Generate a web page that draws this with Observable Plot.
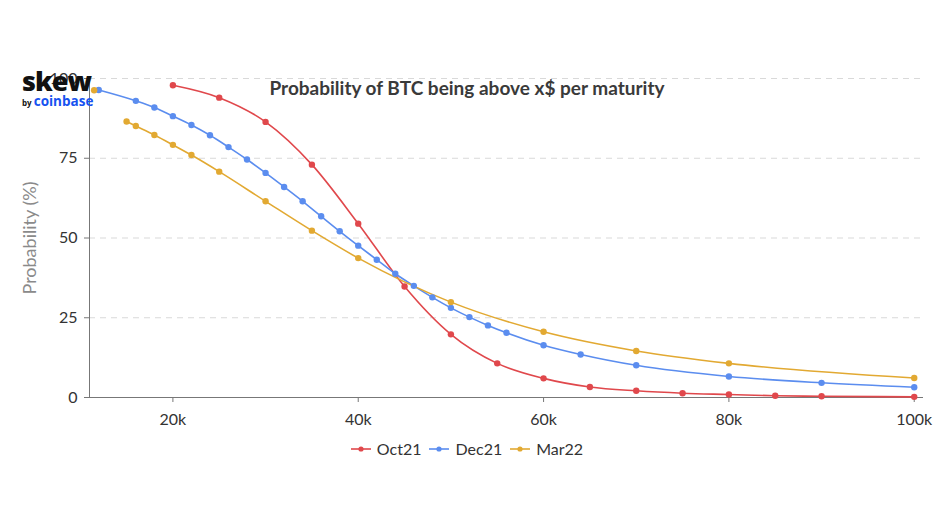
<!DOCTYPE html>
<html>
<head>
<meta charset="utf-8">
<script src="https://cdn.jsdelivr.net/npm/d3@7"></script>
<script src="https://cdn.jsdelivr.net/npm/@observablehq/plot@0.6"></script>
<style>
  html, body { margin: 0; padding: 0; background: #fff; }
  #wrap { position: relative; width: 934px; height: 524px; font-family: Lato, "Open Sans", sans-serif; }
  #title { position: absolute; left: 0; width: 934px; top: 76px; text-align: center; font-size: 19px; font-weight: 700; color: #3a3a3a; }
  #logo { position: absolute; left: 22px; top: 67px; line-height: 1; }
  #logo .skew { font-family: "Open Sans", sans-serif; font-weight: 800; font-size: 27px; color: #111; letter-spacing: -1px; }
  #logo .by { font-family: "Open Sans", sans-serif; font-size: 8px; font-weight: 700; color: #111; }
  #logo .cb { font-family: "Open Sans", sans-serif; font-size: 13.5px; font-weight: 700; color: #1652f0; }
  #ylab { position: absolute; left: 29px; top: 238px; transform: translate(-50%, -50%) rotate(-90deg); font-size: 18px; color: #8a8a8a; white-space: nowrap; }
  #legend { position: absolute; left: 0; width: 934px; top: 439px; display: flex; justify-content: center; gap: 8px; font-size: 16px; color: #333; }
  #legend span.item { display: inline-flex; align-items: center; gap: 6px; }
  #chart { position: absolute; left: 0; top: 0; }
</style>
</head>
<body>
<div id="wrap">
  <div id="chart"></div>
  <div id="title">Probability of BTC being above x$ per maturity</div>
  <div id="logo"><div class="skew">skew</div><div style="margin-top:-2px"><span class="by">by </span><span class="cb">coinbase</span></div></div>
  <div id="ylab">Probability (%)</div>
  <div id="legend"></div>
</div>
<script>
const seriesNames = ["Oct21", "Dec21", "Mar22"];
const seriesColors = ["#e0484c", "#5b8def", "#e2a932"];

const oct21Strike = [20000, 25000, 30000, 35000, 40000, 45000, 50000, 55000, 60000, 65000, 70000, 75000, 80000, 85000, 90000, 100000];
const oct21Prob   = [97.9, 94.0, 86.4, 73.0, 54.5, 34.8, 19.8, 10.7, 6.0, 3.3, 2.1, 1.35, 0.95, 0.55, 0.4, 0.2];

const dec21Strike = [12000, 16000, 18000, 20000, 22000, 24000, 26000, 28000, 30000, 32000, 34000, 36000, 38000, 40000, 42000, 44000, 46000, 48000, 50000, 52000, 54000, 56000, 60000, 64000, 70000, 80000, 90000, 100000];
const dec21Prob   = [96.4, 93.0, 90.9, 88.2, 85.4, 82.2, 78.5, 74.6, 70.4, 66.0, 61.5, 56.8, 52.1, 47.6, 43.2, 38.8, 35.0, 31.4, 28.1, 25.2, 22.6, 20.3, 16.4, 13.5, 10.1, 6.6, 4.6, 3.2];

// The first Mar22 point stands apart from its line in the reference
const mar22Strike = [11500, 15000, 16000, 18000, 20000, 22000, 25000, 30000, 35000, 40000, 50000, 60000, 70000, 80000, 100000];
const mar22Prob   = [96.3, 86.5, 85.1, 82.3, 79.2, 76.0, 70.8, 61.5, 52.3, 43.7, 29.9, 20.6, 14.6, 10.7, 6.1];
const mar22LineFrom = 15000;

const xTicks = [20000, 40000, 60000, 80000, 100000];
const yTicks = [0, 25, 50, 75, 100];

const strikes = [oct21Strike, dec21Strike, mar22Strike];
const probs = [oct21Prob, dec21Prob, mar22Prob];
const data = [];
seriesNames.forEach((name, i) => {
  strikes[i].forEach((s, j) => data.push({series: name, strike: s, prob: probs[i][j]}));
});
const lineData = data.filter(d => !(d.series === "Mar22" && d.strike < mar22LineFrom));

const chart = Plot.plot({
  width: 934,
  height: 524,
  marginLeft: 89,
  marginRight: 11,
  marginTop: 78,
  marginBottom: 127,
  style: {fontFamily: "Lato, 'Open Sans', sans-serif", fontSize: "16px", color: "#333", background: "transparent"},
  x: {domain: [11000, 101000], label: null},
  y: {domain: [0, 100], label: null},
  color: {domain: seriesNames, range: seriesColors},
  marks: [
    Plot.gridY(yTicks.filter(d => d > 0), {stroke: "#d9d9d9", strokeOpacity: 1, strokeDasharray: "6,5"}),
    Plot.axisX({ticks: xTicks, tickFormat: d => (d / 1000) + "k", label: null, tickSize: 5, tickPadding: 11, stroke: "#777", fill: "#333"}),
    Plot.axisY({ticks: yTicks, label: null, tickSize: 5, tickPadding: 7, stroke: "#777", fill: "#333"}),
    Plot.ruleY([0], {stroke: "#777"}),
    Plot.ruleX([11000], {stroke: "#777"}),
    Plot.line(lineData, {x: "strike", y: "prob", z: "series", stroke: "series", strokeWidth: 1.6, curve: "monotone-x"}),
    Plot.dot(data, {x: "strike", y: "prob", fill: "series", r: 3.2})
  ]
});
document.getElementById("chart").appendChild(chart);

const legend = document.getElementById("legend");
seriesNames.forEach((name, i) => {
  const item = document.createElement("span");
  item.className = "item";
  item.innerHTML = `<svg width="20" height="10"><line x1="0" y1="5" x2="20" y2="5" stroke="${seriesColors[i]}" stroke-width="1.6"/><circle cx="10" cy="5" r="2.6" fill="${seriesColors[i]}"/></svg><span>${name}</span>`;
  legend.appendChild(item);
});
</script>
</body>
</html>
